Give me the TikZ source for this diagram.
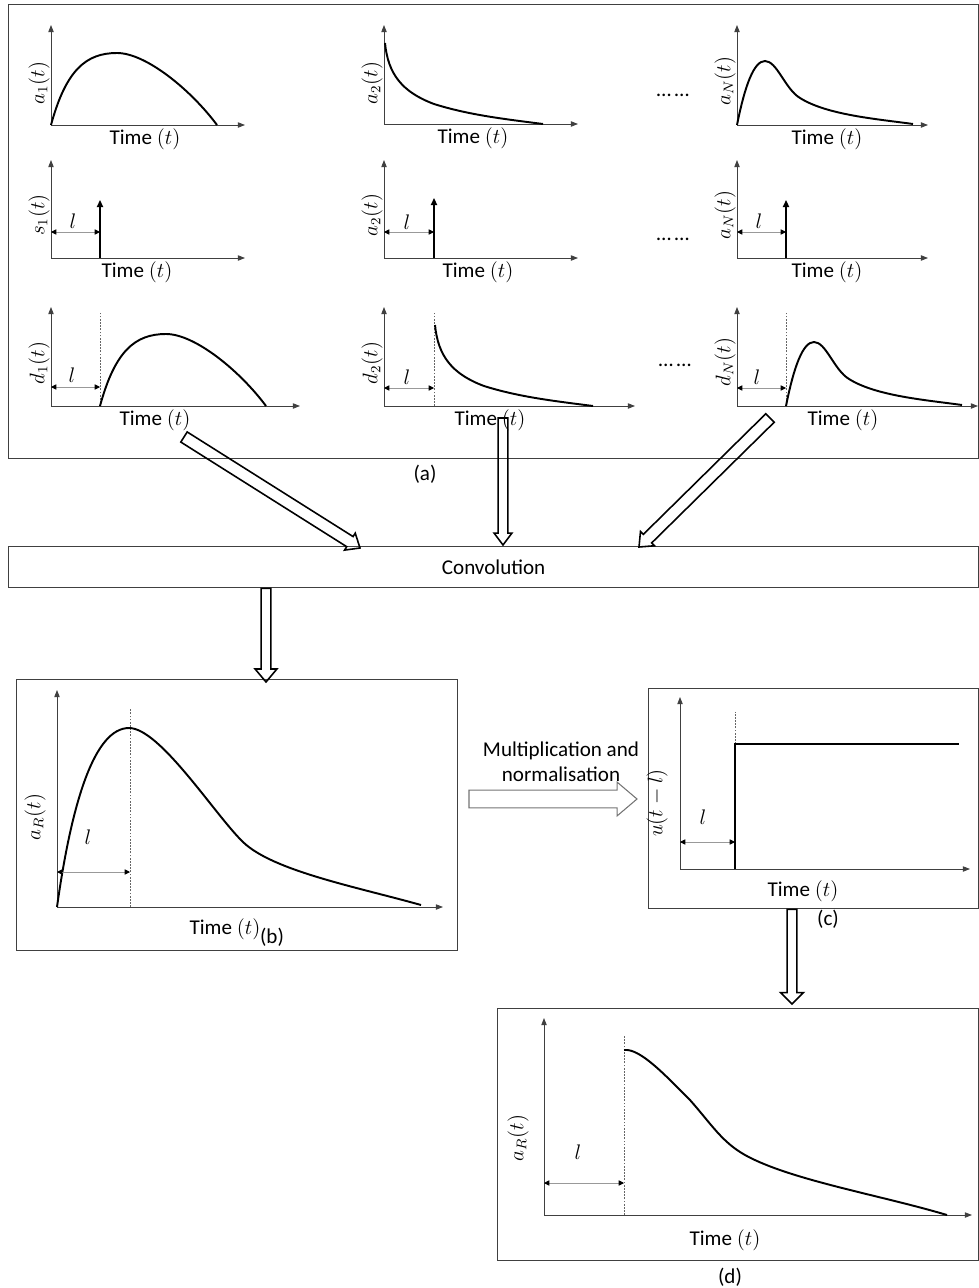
\documentclass[tikz,border=0pt]{standalone}
\usepackage{fontspec}
\setmainfont{Carlito}
\usetikzlibrary{arrows.meta,calc}

% hollow block arrow: [style] from, to, shaft half width, head half width, head length
\newcommand\blockarrow[6][]{%
  \coordinate (hb) at ($(#3)!#6!(#2)$);
  \draw[block,#1] ($(#2)!#4!90:(#3)$) -- ($(hb)!#4!-90:(#2)$) -- ($(hb)!#5!-90:(#2)$) -- (#3)
    -- ($(hb)!#5!90:(#2)$) -- ($(hb)!#4!90:(#2)$) -- ($(#2)!#4!-90:(#3)$) -- cycle;}

\begin{document}
\begin{tikzpicture}[x=0.02cm,y=-0.02cm,
    panel/.style={draw=black!75,line width=0.8pt,inner sep=0pt,anchor=north west,font=\fontsize{12}{14}\selectfont},
    axes/.style={draw=black!75,line width=0.5pt,{Triangle[length=4pt,width=3pt]}-{Triangle[length=4pt,width=3pt]}},
    curve/.style={line width=1.1pt},
    spike/.style={line width=1.3pt,-{Triangle[length=4pt,width=3.5pt]}},
    dim/.style={draw=black!40,line width=0.4pt,{Triangle[length=3pt,width=3pt,color=black]}-{Triangle[length=3pt,width=3pt,color=black]}},
    guide/.style={draw=black!60,line width=0.4pt,dash pattern=on 1pt off 0.8pt},
    block/.style={draw=black,line width=0.9pt,line join=miter},
    txt/.style={inner sep=1pt,font=\fontsize{12}{14}\selectfont},
    ylbl/.style={txt,rotate=90}]
\useasboundingbox (0,0) rectangle (979,1288);

% panels
\node[panel,minimum width=19.4cm,minimum height=9.08cm] (pa) at (8,4) {};
\node[txt] (capa) at (425,474) {(a)};
\node[panel,minimum width=19.4cm,minimum height=0.82cm] (conv) at (8,546) {Convolution};
\node[panel,minimum width=8.82cm,minimum height=5.42cm] (pb) at (16,679) {};
\node[panel,minimum width=6.6cm,minimum height=4.4cm] (pc) at (648,688) {};
\node[panel,minimum width=9.62cm,minimum height=5.04cm] (pd) at (497,1008) {};

% row 1: responses
\begin{scope}[shift={(51,125)}]
  \draw[axes] (0,-100) -- (0,0) -- (194,0);
  \draw[curve] (0,0) .. controls (15,-55) and (35,-72) .. (66,-72) .. controls (95,-72) and (140,-35) .. (166,0);
  \node[ylbl] (ya1) at (-12,-42) {$a_1(t)$};
  \node[txt] (ta1) at (94,14) {Time $(t)$};
\end{scope}
\begin{scope}[shift={(384,124)}]
  \draw[axes] (0,-99) -- (0,0) -- (194,0);
  \draw[curve] (1,-81) .. controls (4,-50) and (18,-32) .. (50,-20) .. controls (85,-9) and (120,-5) .. (159,0);
  \node[ylbl] (ya2) at (-12,-41) {$a_2(t)$};
  \node[txt] (ta2) at (89,14) {Time $(t)$};
\end{scope}
\node[txt] (dots1) at (673,95) {…\,…};
\begin{scope}[shift={(737,125)}]
  \draw[axes] (0,-100) -- (0,0) -- (191,0);
  \draw[curve] (0,0) .. controls (8,-40) and (17,-64) .. (28,-64) .. controls (40,-64) and (48,-36) .. (63,-27) .. controls (90,-10) and (140,-6) .. (176,-1);
  \node[ylbl] (yaN) at (-12,-44) {$a_N(t)$};
  \node[txt] (taN) at (90,14) {Time $(t)$};
\end{scope}

% row 2: impulses
\begin{scope}[shift={(51,258)}]
  \draw[axes] (0,-98) -- (0,0) -- (194,0);
  \draw[spike] (49,0) -- (49,-58);
  \draw[dim] (0,-26) -- (49,-26);
  \node[txt] (ls1) at (22,-37) {$l$};
  \node[ylbl] (ys1) at (-12,-43) {$s_1(t)$};
  \node[txt] (ts1) at (86,14) {Time $(t)$};
\end{scope}
\begin{scope}[shift={(384,258)}]
  \draw[axes] (0,-98) -- (0,0) -- (194,0);
  \draw[spike] (50,0) -- (50,-60);
  \draw[dim] (0,-26) -- (50,-26);
  \node[txt] (ls2) at (23,-36) {$l$};
  \node[ylbl] (ys2) at (-12,-43) {$a_2(t)$};
  \node[txt] (ts2) at (94,14) {Time $(t)$};
\end{scope}
\node[txt] (dots2) at (673,239) {…\,…};
\begin{scope}[shift={(737,258)}]
  \draw[axes] (0,-98) -- (0,0) -- (191,0);
  \draw[spike] (49,0) -- (49,-58);
  \draw[dim] (0,-26) -- (49,-26);
  \node[txt] (lsN) at (22,-37) {$l$};
  \node[ylbl] (ysN) at (-12,-43) {$a_N(t)$};
  \node[txt] (tsN) at (90,14) {Time $(t)$};
\end{scope}

% row 3: delayed responses
\begin{scope}[shift={(51,406)}]
  \draw[axes] (0,-99) -- (0,0) -- (249,0);
  \draw[guide] (49,0) -- (49,-94);
  \draw[curve,shift={(49,0)}] (0,0) .. controls (15,-55) and (35,-72) .. (66,-72) .. controls (95,-72) and (140,-35) .. (166,0);
  \draw[dim] (0,-19) -- (49,-19);
  \node[txt] (ld1) at (21,-31) {$l$};
  \node[ylbl] (yd1) at (-12,-43) {$d_1(t)$};
  \node[txt] (td1) at (104,14) {Time $(t)$};
\end{scope}
\begin{scope}[shift={(384,406)}]
  \draw[axes] (0,-99) -- (0,0) -- (251,0);
  \draw[guide] (50,0) -- (50,-94);
  \draw[curve,shift={(50,0)}] (1,-81) .. controls (4,-50) and (18,-32) .. (50,-20) .. controls (85,-9) and (120,-5) .. (159,0);
  \draw[dim] (0,-18) -- (50,-18);
  \node[txt] (ld2) at (23,-29) {$l$};
  \node[ylbl] (yd2) at (-12,-43) {$d_2(t)$};
  \node[txt] (td2) at (106,14) {Time $(t)$};
\end{scope}
\node[txt] (dots3) at (675,365) {…\,…};
\begin{scope}[shift={(737,406)}]
  \draw[axes] (0,-99) -- (0,0) -- (241,0);
  \draw[guide] (49,0) -- (49,-94);
  \draw[curve,shift={(49,0)}] (0,0) .. controls (8,-40) and (17,-64) .. (28,-64) .. controls (40,-64) and (48,-36) .. (63,-27) .. controls (90,-10) and (140,-6) .. (176,-1);
  \draw[dim] (0,-18) -- (49,-18);
  \node[txt] (ldN) at (20,-29) {$l$};
  \node[ylbl] (ydN) at (-12,-44) {$d_N(t)$};
  \node[txt] (tdN) at (106,14) {Time $(t)$};
\end{scope}

% (b) convolved response
\begin{scope}[shift={(57,907)}]
  \draw[axes] (0,-217) -- (0,0) -- (386,0);
  \draw[guide] (73,0) -- (73,-198);
  \draw[curve] (0,0) .. controls (15,-107) and (38,-179) .. (72,-179) .. controls (103,-179) and (158,-92) .. (186,-65) .. controls (216,-36) and (300,-20) .. (364,-2);
  \draw[dim] (0,-35) -- (73,-35);
  \node[txt] (lb) at (31,-70) {$l$};
  \node[ylbl] (yb) at (-22,-90) {$a_R(t)$};
  \node[txt] (tb) at (168,22) {Time $(t)$};
\end{scope}
\node[txt] (capb) at (272,937) {(b)};

% (c) delayed step
\begin{scope}[shift={(680,869)}]
  \draw[axes] (0,-172) -- (0,0) -- (290,0);
  \draw[guide] (55,-125) -- (55,-157);
  \draw[curve,line width=1.3pt] (55,0) -- (55,-125) -- (279,-125);
  \draw[dim] (0,-27) -- (55,-27);
  \node[txt] (lc) at (23,-52) {$l$};
  \node[ylbl] (yc) at (-23,-66) {$u(t-l)$};
  \node[txt] (tc) at (123,22) {Time $(t)$};
\end{scope}
\node[txt] (capc) at (828,919) {(c)};
\node[txt,align=center] (multxt) at (561,762) {Multiplication and\\normalisation};

% (d) truncated response
\begin{scope}[shift={(544,1215)}]
  \draw[axes] (0,-197) -- (0,0) -- (428,0);
  \draw[guide] (80,0) -- (80,-180);
  \draw[curve] (80,-165) .. controls (96,-167) and (121,-140) .. (146,-115) .. controls (168,-90) and (178,-73) .. (201,-60) .. controls (246,-35) and (336,-20) .. (403,0);
  \draw[dim] (0,-32) -- (80,-32);
  \node[txt] (ld) at (34,-63) {$l$};
  \node[ylbl] (yd) at (-26,-77) {$a_R(t)$};
  \node[txt] (td) at (181,25) {Time $(t)$};
\end{scope}
\node[txt] (capd) at (730,1277) {(d)};

% block arrows
\coordinate (a1out) at (184,437);
\coordinate (c1in) at ($(conv.north west)+(352,2)$);
\coordinate (a2out) at (503,418);
\coordinate (c2in) at ($(conv.north west)+(495,-1)$);
\coordinate (a3out) at (770,418);
\coordinate (c3in) at ($(conv.north west)+(631,1)$);
\coordinate (convout) at ($(conv.south west)+(258,0)$);
\coordinate (bin) at ($(pb.north west)+(250,3)$);
\coordinate (bout) at (469,799);
\coordinate (cin) at (637,799);
\coordinate (cout) at ($(pc.south west)+(144,0)$);
\coordinate (din) at ($(pd.north west)+(295,-4)$);
\blockarrow{a1out}{c1in}{3.4pt}{5.7pt}{6.8pt}
\blockarrow{a2out}{c2in}{2.8pt}{5.1pt}{6.8pt}
\blockarrow{a3out}{c3in}{3.4pt}{5.7pt}{6.8pt}
\blockarrow{convout}{bin}{2.8pt}{6.2pt}{7.4pt}
\blockarrow[draw=black!55,line width=0.6pt]{bout}{cin}{5.1pt}{9.6pt}{11.3pt}
\blockarrow{cout}{din}{2.8pt}{6.5pt}{6.5pt}
\end{tikzpicture}
\end{document}
